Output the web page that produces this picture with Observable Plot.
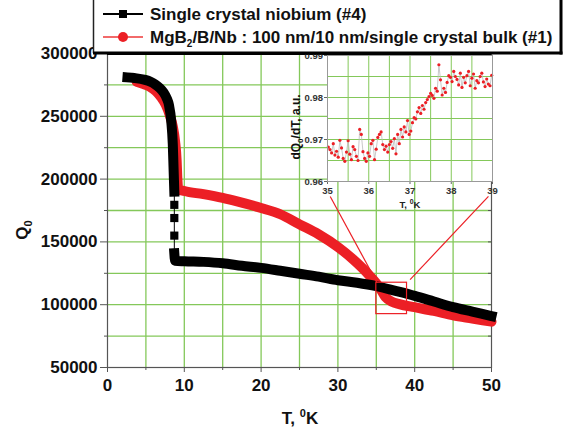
<!DOCTYPE html>
<html><head><meta charset="utf-8">
<script src="https://cdn.jsdelivr.net/npm/d3@7"></script>
<script src="https://cdn.jsdelivr.net/npm/@observablehq/plot@0.6"></script>
<style>
body{margin:0;background:#fff;}
#wrap{position:relative;width:564px;height:429px;overflow:hidden;font-family:"Liberation Sans",Arial,sans-serif;}
#wrap > svg{position:absolute;}
</style>
</head><body><div id="wrap"></div>
<script>
// ---------- data ----------
const xTicks = [0, 10, 20, 30, 40, 50];
const xMinor = [5, 15, 25, 35, 45];
const xGrid = [5, 10, 15, 20, 25, 30, 35, 40, 45];
const yTicks = [50000, 100000, 150000, 200000, 250000, 300000];
const yMinor = [75000, 125000, 175000, 225000, 275000];
const yGrid = [75000, 100000, 125000, 150000, 175000, 200000, 225000, 250000, 275000];

// Single crystal niobium (#4)
const nbT = [2.6, 3.5, 4.9, 5.6, 6.2, 6.8, 7.3, 7.7, 8.0, 8.3, 8.5, 8.6, 8.7,
             8.7, 8.7, 8.7,
             8.7, 8.8, 10, 12.5, 15, 17.5, 20, 22.5, 25, 27.5, 30, 32.5, 35, 37.5, 40, 42.5, 45, 47.5, 50];
const nbQ = [281000, 280500, 279000, 277500, 275500, 272500, 269000, 264500, 259000, 246000, 228000, 209000, 190000,
             179500, 169000, 155000,
             141000, 135000, 134600, 134100, 133000, 131000, 129300, 127000, 124600, 122300, 119500, 117500, 114800, 111000, 107000, 102500, 98000, 94500, 91000];
const nbPart = ["a","a","a","a","a","a","a","a","a","a","a","a","a",
                "gap","gap","gap",
                "b","b","b","b","b","b","b","b","b","b","b","b","b","b","b","b","b","b","b"];

// MgB2/B/Nb (#1)
const mgT = [3.8, 4.5, 5.5, 6.3, 7.0, 7.6, 8.1, 8.5, 8.8, 9.0, 9.1, 9.2, 10, 12.5, 15, 17, 20, 22.5, 25, 27.5, 30, 32, 34, 35.5, 36.2, 37, 38, 40, 42.5, 45, 47.5, 50];
const mgQ = [277500, 276000, 273500, 270000, 265000, 259000, 251000, 242000, 230000, 215000, 200000, 192000, 190500, 188000, 185000, 182000, 177000, 172000, 164000, 156000, 146000, 136000, 124000, 113000, 106000, 102500, 100500, 98000, 95000, 91500, 89000, 86500];

// zoom box and connectors (main coordinates)
const boxT = [35, 39];
const boxQ = [92500, 117500];
const linkFromT = [29.0, 49.6];
const linkFromQ = [186200, 186200];
const linkToT = [35.1, 39.4];
const linkToQ = [117500, 120000];

// inset: dQ0/dT
const insetXTicks = [35, 36, 37, 38, 39];
const insetXGrid = [35.5, 36, 36.5, 37, 37.5, 38, 38.5];
const insetYTicks = [0.96, 0.97, 0.98, 0.99];
const insetYGrid = [0.965, 0.97, 0.975, 0.98, 0.985];
const insetT = [35.02,35.06,35.10,35.14,35.18,35.22,35.26,35.30,35.34,35.38,35.42,35.46,35.50,35.54,35.58,35.62,35.66,35.70,35.74,35.78,35.82,35.86,35.90,35.94,35.98,
  36.02,36.06,36.10,36.14,36.18,36.22,36.26,36.30,36.34,36.38,36.42,36.46,36.50,
  36.54,36.58,36.62,36.66,36.70,36.74,36.78,36.82,36.86,36.90,36.94,36.98,
  37.02,37.06,37.10,37.14,37.18,37.22,37.26,37.30,37.34,37.38,37.42,37.46,
  37.50,37.54,37.58,37.62,37.66,37.70,37.74,37.78,37.82,37.86,37.90,37.94,37.98,
  38.02,38.06,38.10,38.14,38.18,38.22,38.26,38.30,38.34,38.38,38.42,38.46,38.50,38.54,38.58,38.62,38.66,38.70,38.74,38.78,38.82,38.86,38.90,38.94,38.98];
const insetD = [0.9682,0.9676,0.9668,0.9690,0.9663,0.9672,0.9658,0.9698,0.9680,0.9655,0.9648,0.9670,0.9697,0.9665,0.9652,0.9683,0.9676,0.9660,0.9650,0.9724,0.9712,0.9671,0.9655,0.9648,0.9668,
  0.9660,0.9690,0.9698,0.9652,0.9677,0.9705,0.9712,0.9718,0.9688,0.9676,0.9684,0.9670,0.9688,
  0.9695,0.9679,0.9702,0.9666,0.9712,0.9690,0.9724,0.9706,0.9730,0.9718,0.9745,0.9712,
  0.9720,0.9740,0.9752,0.9749,0.9766,0.9776,0.9762,0.9781,0.9772,0.9788,0.9795,0.9802,
  0.9810,0.9805,0.9798,0.9822,0.9815,0.9878,0.9842,0.9806,0.9822,0.9812,0.9836,0.9852,0.9848,
  0.9838,0.9862,0.9850,0.9843,0.9830,0.9858,0.9824,0.9848,0.9835,0.9852,0.9862,0.9828,0.9846,0.9856,0.9822,0.9840,0.9835,0.9850,0.9858,0.9837,0.9826,0.9844,0.9832,0.9828,0.9853];

const seriesNames = ["Single crystal niobium (#4)", "MgB2/B/Nb : 100 nm/10 nm/single crystal bulk (#1)"];

// ---------- build tables ----------
const nb = nbT.map((t, i) => ({T: t, Q: nbQ[i], part: nbPart[i]}));
const nbBand = nb.filter(d => d.part !== "gap");
const nbGap = nb.filter(d => d.part === "gap");
const mg = mgT.map((t, i) => ({T: t, Q: mgQ[i]}));
const inset = insetT.map((t, i) => ({T: t, D: insetD[i]}));
const links = linkFromT.map((t, i) => ({x1: t, y1: linkFromQ[i], x2: linkToT[i], y2: linkToQ[i]}));
const box = [{x1: boxT[0], x2: boxT[1], y1: boxQ[0], y2: boxQ[1]}];

const GREEN = "#84c85a", RED = "#ec1f25", AX = "#555";
const FONT = "Liberation Sans, Arial, sans-serif";

const main = Plot.plot({
  width: 564, height: 429,
  marginLeft: 107, marginRight: 73, marginTop: 53, marginBottom: 62,
  x: {domain: [0, 50]},
  y: {domain: [50000, 300000]},
  style: {fontFamily: FONT, fontSize: "17px", fontWeight: "bold", color: "#111", background: "transparent"},
  marks: [
    Plot.gridX(xGrid, {stroke: GREEN, strokeOpacity: 1, strokeWidth: 1.3}),
    Plot.gridY(yGrid, {stroke: GREEN, strokeOpacity: 1, strokeWidth: 1.3}),
    Plot.frame({stroke: AX, strokeWidth: 1.2}),
    Plot.axisX(xTicks, {tickSize: 5, tickPadding: 6, label: null, stroke: AX}),
    Plot.axisX(xMinor, {tickSize: 3, tickFormat: () => "", label: null, stroke: AX}),
    Plot.axisY(yTicks, {tickSize: 7, tickPadding: 3, label: null, tickFormat: d => String(d), stroke: AX}),
    Plot.axisY(yMinor, {tickSize: 3, tickFormat: () => "", label: null, stroke: AX}),
    Plot.axisY(yGrid, {anchor: "right", tickSize: -4, tickFormat: () => "", label: null, stroke: AX}),
    Plot.line(mg, {x: "T", y: "Q", stroke: RED, strokeWidth: 10, curve: "monotone-x", strokeLinejoin: "round", strokeLinecap: "round"}),
    Plot.line(nb, {x: "T", y: "Q", stroke: "#000", strokeWidth: 1}),
    Plot.line(nbBand, {x: "T", y: "Q", z: "part", stroke: "#000", strokeWidth: 10, curve: "monotone-x", strokeLinejoin: "round", strokeLinecap: "square"}),
    Plot.dot(nbGap, {x: "T", y: "Q", symbol: "square", r: 4.6, fill: "#000"}),
    Plot.rect(box, {x1: "x1", x2: "x2", y1: "y1", y2: "y2", stroke: RED, fill: "none", strokeWidth: 1.2}),
    Plot.link(links, {x1: "x1", y1: "y1", x2: "x2", y2: "y2", stroke: RED, strokeWidth: 1.2}),
    Plot.ruleY([300000], {stroke: "#000", strokeWidth: 3})
  ]
});
main.style.left = "0px"; main.style.top = "0px";
const ms = d3.select(main);
ms.append("text").attr("transform", "translate(28,230) rotate(-90)").attr("text-anchor", "middle")
  .attr("font-size", 17).attr("font-weight", "bold").attr("fill", "#111")
  .call(t => { t.append("tspan").text("Q"); t.append("tspan").attr("font-size", 11).attr("dy", 4).text("0"); });
ms.append("text").attr("x", 300).attr("y", 424).attr("text-anchor", "middle")
  .attr("font-size", 17).attr("font-weight", "bold").attr("fill", "#111")
  .call(t => { t.append("tspan").text("T, "); t.append("tspan").attr("font-size", 11).attr("dy", -7).text("0"); t.append("tspan").attr("dy", 7).text("K"); });

const ins = Plot.plot({
  width: 217, height: 175,
  marginLeft: 44, marginRight: 8, marginTop: 15, marginBottom: 34,
  x: {domain: [35, 39]},
  y: {domain: [0.96, 0.99]},
  style: {fontFamily: FONT, fontSize: "9.5px", fontWeight: "bold", color: "#333", background: "transparent"},
  marks: [
    Plot.frame({fill: "white", stroke: "none"}),
    Plot.gridX(insetXGrid, {stroke: GREEN, strokeOpacity: 1, strokeWidth: 1}),
    Plot.gridY(insetYGrid, {stroke: GREEN, strokeOpacity: 1, strokeWidth: 1}),
    Plot.line(inset, {x: "T", y: "D", stroke: "#bbb", strokeWidth: 0.8}),
    Plot.dot(inset, {x: "T", y: "D", r: 1.6, fill: RED}),
    Plot.axisX(insetXTicks, {tickSize: 3, tickPadding: 2.5, label: null, stroke: "#666"}),
    Plot.axisY(insetYTicks, {tickSize: 3, tickPadding: 1.5, label: null, tickFormat: d3.format(".2f"), stroke: "#666"}),
    Plot.frame({stroke: "#999", strokeWidth: 1})
  ]
});
ins.style.left = "283px"; ins.style.top = "40px";
const is = d3.select(ins);
is.append("text").attr("transform", "translate(17,87) rotate(-90)").attr("text-anchor", "middle")
  .attr("font-size", 12).attr("font-weight", "bold").attr("fill", "#111")
  .call(t => { t.append("tspan").text("dQ"); t.append("tspan").attr("font-size", 8).attr("dy", 3).text("0"); t.append("tspan").attr("dy", -3).text("/dT, a.u."); });
is.append("text").attr("x", 127).attr("y", 167.5).attr("text-anchor", "middle")
  .attr("font-size", 9.5).attr("font-weight", "bold").attr("fill", "#222")
  .call(t => { t.append("tspan").text("T, "); t.append("tspan").attr("font-size", 7).attr("dy", -4).text("0"); t.append("tspan").attr("dy", 4).text("K"); });

const wrap = document.getElementById("wrap");
wrap.appendChild(main);
wrap.appendChild(ins);

// legend
const leg = d3.create("svg").attr("width", 564).attr("height", 56)
  .style("left", "0px").style("top", "0px").style("position", "absolute")
  .attr("font-family", FONT);
leg.append("rect").attr("x", 93).attr("y", -5).attr("width", 469).attr("height", 58).attr("fill", "#fff");
leg.append("line").attr("x1", 93.5).attr("x2", 93.5).attr("y1", 0).attr("y2", 53).attr("stroke", "#222").attr("stroke-width", 1.5);
leg.append("line").attr("x1", 561).attr("x2", 561).attr("y1", 0).attr("y2", 54.5).attr("stroke", "#000").attr("stroke-width", 3);
leg.append("line").attr("x1", 93).attr("x2", 562.5).attr("y1", 53).attr("y2", 53).attr("stroke", "#000").attr("stroke-width", 3);
// entry 1
leg.append("line").attr("x1", 103).attr("x2", 143).attr("y1", 14).attr("y2", 14).attr("stroke", "#000").attr("stroke-width", 2);
leg.append("rect").attr("x", 119).attr("y", 10).attr("width", 8).attr("height", 8).attr("fill", "#000");
leg.append("text").attr("x", 150).attr("y", 20).attr("font-size", 17).attr("font-weight", "bold").attr("fill", "#111").text(seriesNames[0]);
// entry 2
leg.append("line").attr("x1", 103).attr("x2", 143).attr("y1", 37).attr("y2", 37).attr("stroke", "#f26a6a").attr("stroke-width", 2);
leg.append("circle").attr("cx", 123).attr("cy", 37).attr("r", 5).attr("fill", RED);
leg.append("text").attr("x", 150).attr("y", 43).attr("font-size", 17).attr("font-weight", "bold").attr("fill", "#111")
  .call(t => {
    t.append("tspan").text("MgB");
    t.append("tspan").attr("font-size", 10).attr("dy", 4).text("2");
    t.append("tspan").attr("dy", -4).text(seriesNames[1].slice(4));
  });
wrap.appendChild(leg.node());
</script>
</body></html>
